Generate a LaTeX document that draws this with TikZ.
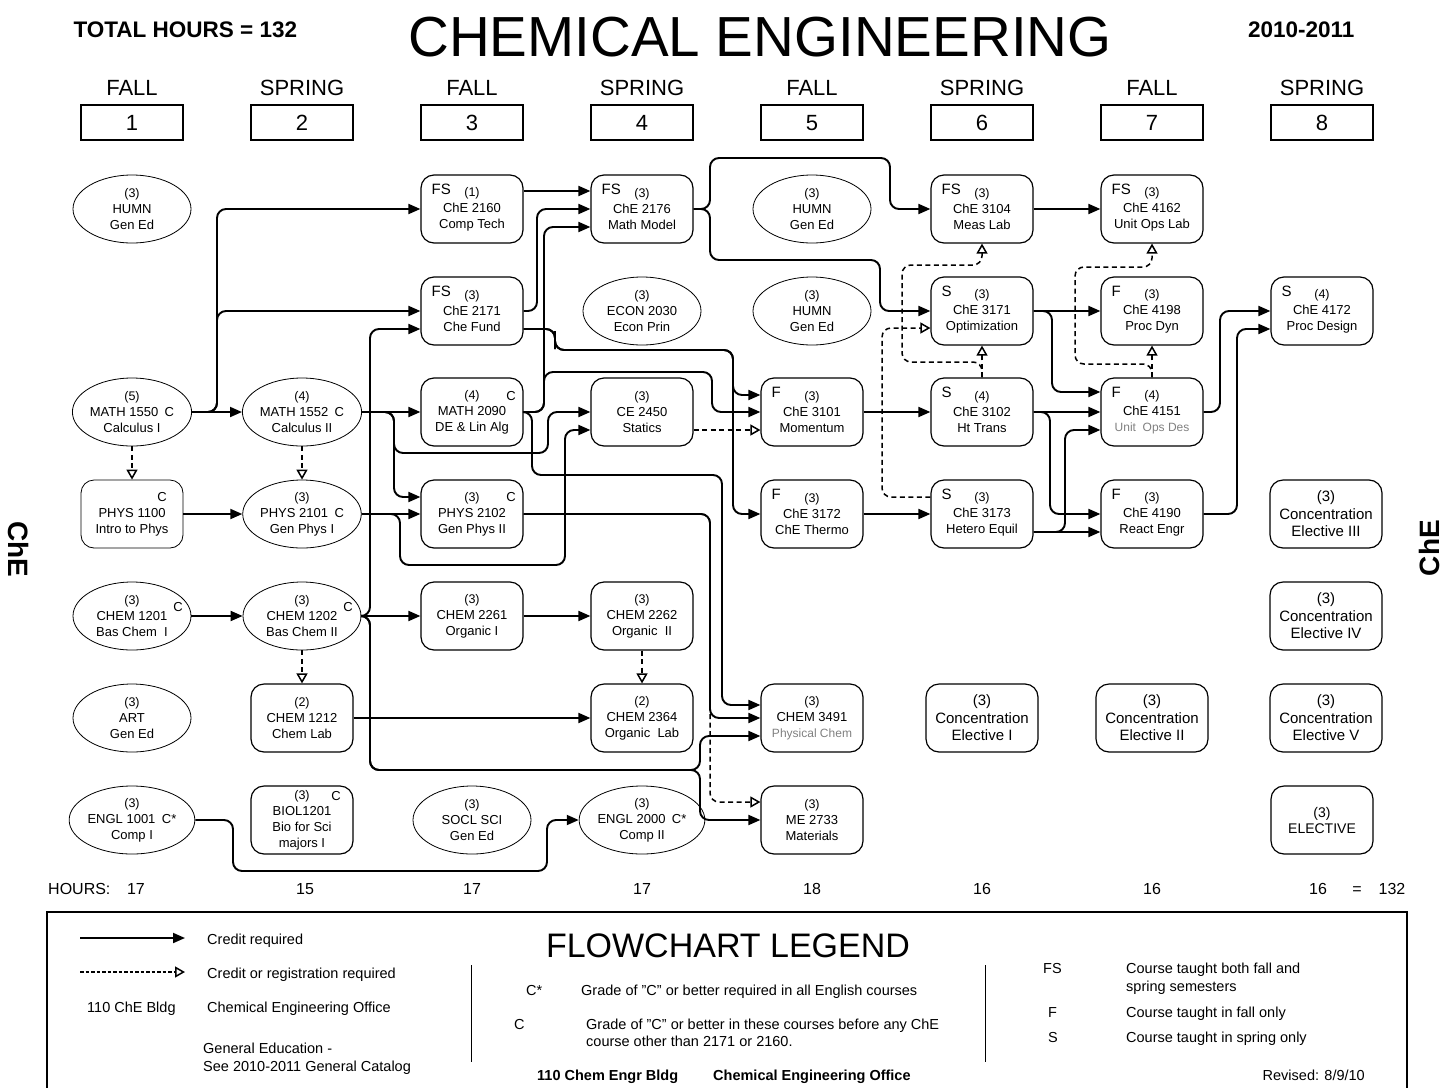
\documentclass[tikz,border=0pt]{standalone}
\usepackage{fontspec}
\setmainfont{Liberation Sans}
\usetikzlibrary{arrows.meta,shapes.geometric}

\newcommand\crsf{\fontsize{13}{16}\selectfont}
\newcommand\concf{\fontsize{15}{17.5}\selectfont}
\newcommand\termf{\fontsize{15}{17}\selectfont}
\newcommand\semf{\fontsize{22}{26}\selectfont}
\newcommand\legf{\fontsize{14.5}{17}\selectfont}
\newcommand\crhrs[1]{{\fontsize{12.5}{16}\selectfont(#1)}}

\tikzset{
  crs/.style={rectangle, draw, rounded corners=13pt, minimum width=102pt, minimum height=68pt, line width=1.2pt, align=center, inner sep=0pt, font=\crsf},
  thinb/.style={line width=.8pt},
  gened/.style={ellipse, draw, minimum width=118pt, minimum height=68pt, line width=.8pt, align=center, inner sep=0pt, font=\crsf},
  conc/.style={crs, minimum width=112pt, font=\concf},
  termlbl/.style={anchor=west, inner sep=0pt, xshift=11pt, yshift=-15pt, font=\termf},
  term/.style={label={[termlbl]north west:#1}},
  cmark/.style 2 args={label={[font=\crsf, inner sep=0pt, xshift=#1, yshift=#2]center:C}},
  req/.style={-{Triangle[length=12pt,width=10pt]}, line width=1.9pt, rounded corners=9pt},
  coreq/.style={-{Triangle[open,length=10pt,width=11pt]}, line width=1.5pt, dash pattern=on 5pt off 3.5pt, rounded corners=9pt},
  semlbl/.style={font=\semf},
  sembox/.style={draw, line width=1.6pt, minimum width=102pt, minimum height=35pt, inner sep=0pt, text height=16pt, text depth=0pt, font=\semf},
  hrsf/.style={font=\fontsize{16}{18}\selectfont, inner sep=0pt, anchor=base},
  legtxt/.style={font=\legf, anchor=base west, inner sep=0pt}
}

\begin{document}
\begin{tikzpicture}[x=1pt,y=-1pt]
\useasboundingbox (0,0) rectangle (1445,1087);

% Title line
\node[anchor=west, font=\bfseries\fontsize{22.5}{25}\selectfont] (tot) at (70,30) {TOTAL HOURS = 132};
\node[font=\fontsize{56.5}{60}\selectfont] (title) at (760,37) {CHEMICAL ENGINEERING};
\node[anchor=east, font=\bfseries\fontsize{22.5}{25}\selectfont] (year) at (1358,30) {2010-2011};

% Semesters
\foreach \i/\sname in {1/FALL,2/SPRING,3/FALL,4/SPRING,5/FALL,6/SPRING,7/FALL,8/SPRING}{
  \node[semlbl] (tl\i) at ({132+170*(\i-1)},88) {\sname};
  \node[sembox] (sb\i) at ({132+170*(\i-1)},122.5) {\i};
}

% Side labels
\node[font=\bfseries\fontsize{28}{30}\selectfont, rotate=-90] (sideL) at (19,549) {ChE};
\node[font=\bfseries\fontsize{28}{30}\selectfont, rotate=90] (sideR) at (1429,548) {ChE};

% Semester 1
\node[gened] (humn1) at (132,209) {\crhrs{3}\\HUMN\\Gen Ed};
\node[gened] (m1550) at (132,412) {\crhrs{5}\\MATH 1550\enspace C\\Calculus I};
\node[crs, thinb, cmark={30pt}{17pt}] (p1100) at (132,514) {\phantom{(3)}\\PHYS 1100\\Intro to Phys};
\node[gened, cmark={46pt}{9pt}] (ch1201) at (132,616) {\crhrs{3}\\CHEM 1201\\Bas Chem\ \ I};
\node[gened] (art1) at (132,718) {\crhrs{3}\\ART\\Gen Ed};
\node[gened] (en1001) at (132,820) {\crhrs{3}\\ENGL 1001\enspace C*\\Comp I};

% Semester 2
\node[gened] (m1552) at (302,412) {\crhrs{4}\\MATH 1552\enspace C\\Calculus II};
\node[gened] (p2101) at (302,514) {\crhrs{3}\\PHYS 2101\enspace C\\Gen Phys I};
\node[gened, cmark={46pt}{9pt}] (ch1202) at (302,616) {\crhrs{3}\\CHEM 1202\\Bas Chem II};
\node[crs] (ch1212) at (302,718) {\crhrs{2}\\CHEM 1212\\Chem Lab};
\node[crs, cmark={34pt}{24pt}] (bi1201) at (302,820) {\crhrs{3}\\BIOL1201\\Bio for Sci\\majors I};

% Semester 3
\node[crs, term=FS] (c2160) at (472,209) {\crhrs{1}\\ChE 2160\\Comp Tech};
\node[crs, term=FS] (c2171) at (472,311) {\crhrs{3}\\ChE 2171\\Che Fund};
\node[crs, cmark={39pt}{16pt}] (m2090) at (472,412) {\crhrs{4}\\MATH 2090\\DE \& Lin Alg};
\node[crs, cmark={39pt}{17pt}] (p2102) at (472,514) {\crhrs{3}\\PHYS 2102\\Gen Phys II};
\node[crs] (ch2261) at (472,616) {\crhrs{3}\\CHEM 2261\\Organic I};
\node[gened] (socl) at (472,820) {\crhrs{3}\\SOCL SCI\\Gen Ed};

% Semester 4
\node[crs, term=FS] (c2176) at (642,209) {\crhrs{3}\\ChE 2176\\Math Model};
\node[gened] (econ) at (642,311) {\crhrs{3}\\ECON 2030\\Econ Prin};
\node[crs] (ce2450) at (642,412) {\crhrs{3}\\CE 2450\\Statics};
\node[crs] (ch2262) at (642,616) {\crhrs{3}\\CHEM 2262\\Organic\ \ II};
\node[crs] (ch2364) at (642,718) {\crhrs{2}\\CHEM 2364\\Organic\ \ Lab};
\node[gened] (en2000) at (642,820) {\crhrs{3}\\ENGL 2000\enspace C*\\Comp II};

% Semester 5
\node[gened] (humn5a) at (812,209) {\crhrs{3}\\HUMN\\Gen Ed};
\node[gened] (humn5b) at (812,311) {\crhrs{3}\\HUMN\\Gen Ed};
\node[crs, term=F] (c3101) at (812,412) {\crhrs{3}\\ChE 3101\\Momentum};
\node[crs, term=F] (c3172) at (812,514) {\crhrs{3}\\ChE 3172\\ChE Thermo};
\node[crs] (ch3491) at (812,718) {\crhrs{3}\\CHEM 3491\\{\fontsize{12}{16}\selectfont\color{gray}Physical Chem}};
\node[crs] (me2733) at (812,820) {\crhrs{3}\\ME 2733\\Materials};

% Semester 6
\node[crs, term=FS] (c3104) at (982,209) {\crhrs{3}\\ChE 3104\\Meas Lab};
\node[crs, term=S] (c3171) at (982,311) {\crhrs{3}\\ChE 3171\\Optimization};
\node[crs, term=S] (c3102) at (982,412) {\crhrs{4}\\ChE 3102\\Ht Trans};
\node[crs, term=S] (c3173) at (982,514) {\crhrs{3}\\ChE 3173\\Hetero Equil};
\node[conc] (conc1) at (982,718) {(3)\\Concentration\\Elective I};

% Semester 7
\node[crs, term=FS] (c4162) at (1152,209) {\crhrs{3}\\ChE 4162\\Unit Ops Lab};
\node[crs, term=F] (c4198) at (1152,311) {\crhrs{3}\\ChE 4198\\Proc Dyn};
\node[crs, term=F] (c4151) at (1152,412) {\crhrs{4}\\ChE 4151\\{\fontsize{12}{16}\selectfont\color{gray}Unit\ \ Ops Des}};
\node[crs, term=F] (c4190) at (1152,514) {\crhrs{3}\\ChE 4190\\React Engr};
\node[conc] (conc2) at (1152,718) {(3)\\Concentration\\Elective II};

% Semester 8
\node[crs, term=S] (c4172) at (1322,311) {\crhrs{4}\\ChE 4172\\Proc Design};
\node[conc] (conc3) at (1326,514) {(3)\\Concentration\\Elective III};
\node[conc] (conc4) at (1326,616) {(3)\\Concentration\\Elective IV};
\node[conc] (conc5) at (1326,718) {(3)\\Concentration\\Elective V};
\node[crs, font=\fontsize{14}{16}\selectfont] (elect) at (1322,820) {(3)\\ELECTIVE};

% Prerequisites from semester 1
\draw[req] (m1550.east) -- (m1552.west);
\draw[req] (m1550.east) -| (217,300) |- (c2160.west);
\draw[req] (m1550.east) -| (217,330) |- (c2171.west);
\draw[coreq] (m1550.south) -- (p1100.north);
\draw[req] (p1100.east) -- (p2101.west);
\draw[req] (ch1201.east) -- (ch1202.west);
\draw[req] (en1001.east) -| (233,871) -| (547,845) |- (en2000.west);

% Prerequisites from semester 2
\draw[coreq] (m1552.south) -- (p2101.north);
\draw[coreq] (ch1202.south) -- (ch1212.north);
\draw[req] (m1552.east) -- (m2090.west);
\draw[req] (m1552.east) -| (394,470) |- ([yshift=17pt]p2102.west);
\draw[req] (m1552.east) -| (394,440) |- (548,453) |- (ce2450.west);
\draw[req] (p2101.east) -- (p2102.west);
\draw[req] (p2101.east) -| (400,540) |- (565,565) |- ([yshift=-18pt]ce2450.west);
\draw[req] (ch1202.east) -- (ch2261.west);
\draw[req] (ch1202.east) -| (370,450) |- ([yshift=-18pt]c2171.west);
\draw[req] (ch1202.east) -| (370,700) |- (700,770) |- ([yshift=-18pt]ch3491.west);
\draw[req] (ch1202.east) -| (370,700) |- (700,770) |- (me2733.west);
\draw[req] (ch1212.east) -- (ch2364.west);

% Prerequisites from semester 3
\draw[req] ([yshift=18pt]c2160.east) -- ([yshift=18pt]c2176.west);
\draw[req] (c2171.east) -| (537,260) |- (c2176.west);
\draw[req] ([yshift=-18pt]c2171.east) -| (555,340) |- (733,350) |- ([yshift=17pt]c3101.west);
\draw[req] ([yshift=-18pt]c2171.east) -| (555,340) |- (733,350) |- (c3172.west);
\draw[req] (m2090.east) -| (544,300) |- ([yshift=-18pt]c2176.west);
\draw[req] (m2090.east) -| (544,390) |- (712,372) |- (c3101.west);
\draw[req] (m2090.east) -| (532,450) |- (722,475) |- ([yshift=13pt]ch3491.west);
\draw[req] (p2102.east) -| (710,600) |- (ch3491.west);
\draw[coreq] (p2102.east) -| (710,700) |- ([yshift=18pt]me2733.west);
\draw[req] (ch2261.east) -- (ch2262.west);

% Prerequisites from semester 4
\draw[req] (c2176.east) -| (710,180) |- (890,158) |- (c3104.west);
\draw[req] (c2176.east) -| (710,240) |- (880,260) |- (c3171.west);
\draw[coreq] ([yshift=-18pt]ce2450.east) -- ([yshift=-18pt]c3101.west);
\draw[coreq] (ch2262.south) -- (ch2364.north);

% Prerequisites from semester 5
\draw[req] (c3101.east) -- (c3102.west);
\draw[req] (c3172.east) -- (c3173.west);

% Prerequisites from semester 6
\draw[coreq] (c3102.north) -- (c3171.south);
\draw[coreq] (c3102.north) |- (902,362) |- (982,265) -- (c3104.south);
\draw[coreq] ([yshift=17pt]c3173.west) -| (882,400) |- ([yshift=-17pt]c3171.west);
\draw[req] (c3104.east) -- (c4162.west);
\draw[req] (c3171.east) -- (c4198.west);
\draw[req] (c3171.east) -| (1052,360) |- ([yshift=20pt]c4151.west);
\draw[req] (c3102.east) -- (c4151.west);
\draw[req] (c3102.east) -| (1050,480) |- (c4190.west);
\draw[req] ([yshift=-18pt]c3173.east) -| (1065,480) |- ([yshift=-18pt]c4151.west);
\draw[req] ([yshift=-18pt]c3173.east) -- ([yshift=-18pt]c4190.west);

% Prerequisites from semester 7
\draw[coreq] (c4151.north) -- (c4198.south);
\draw[coreq] (c4151.north) |- (1075,364) |- (1152,267) -- (c4162.south);
\draw[req] (c4151.east) -| (1220,360) |- (c4172.west);
\draw[req] (c4190.east) -| (1237,420) |- ([yshift=-18pt]c4172.west);

% Hours per semester
\node[hrsf, anchor=base west] (hlab) at (48,894) {HOURS:};
\foreach \hx/\hv [count=\k] in {136/17,305/15,472/17,642/17,812/18,982/16,1152/16,1318/16}{
  \node[hrsf] (h\k) at (\hx,894) {\hv};
}
\node[hrsf] (heq) at (1357,894) {=};
\node[hrsf] (htot) at (1392,894) {132};

% Legend
\draw[line width=1.2pt] (47,912) rectangle (1407,1095);
\node[font=\fontsize{34}{38}\selectfont] (lgtitle) at (728,946) {FLOWCHART LEGEND};
\coordinate (lgA) at (80,938);
\coordinate (lgB) at (185,938);
\coordinate (lgC) at (80,972);
\coordinate (lgD) at (185,972);
\draw[req] (lgA) -- (lgB);
\draw[coreq, dash pattern=on 3.5pt off 2pt] (lgC) -- (lgD);
\node[legtxt] (lg1) at (207,944) {Credit required};
\node[legtxt] (lg2) at (207,978) {Credit or registration required};
\node[legtxt] (lg3) at (87,1012) {110 ChE Bldg};
\node[legtxt] (lg4) at (207,1012) {Chemical Engineering Office};
\node[legtxt] (lg5) at (203,1053) {General Education -};
\node[legtxt] (lg6) at (203,1071) {See 2010-2011 General Catalog};
\draw[line width=.8pt] (471,965) -- (471,1062);
\node[legtxt] (lg7) at (526,995) {C*};
\node[legtxt] (lg8) at (581,995) {Grade of "C" or better required in all English courses};
\node[legtxt] (lg9) at (514,1029) {C};
\node[legtxt] (lg10) at (586,1029) {Grade of "C" or better in these courses before any ChE};
\node[legtxt] (lg11) at (586,1046) {course other than 2171 or 2160.};
\node[legtxt, font=\bfseries\legf] (lg12) at (537,1080) {110 Chem Engr Bldg};
\node[legtxt, font=\bfseries\legf] (lg13) at (713,1080) {Chemical Engineering Office};
\draw[line width=.8pt] (985,965) -- (985,1062);
\node[legtxt] (lg14) at (1043,973) {FS};
\node[legtxt] (lg15) at (1126,973) {Course taught both fall and};
\node[legtxt] (lg16) at (1126,991) {spring semesters};
\node[legtxt] (lg17) at (1048,1017) {F};
\node[legtxt] (lg18) at (1126,1017) {Course taught in fall only};
\node[legtxt] (lg19) at (1048,1042) {S};
\node[legtxt] (lg20) at (1126,1042) {Course taught in spring only};
\node[legtxt, anchor=base east] (lg21) at (1365,1080) {Revised: 8/9/10};

\end{tikzpicture}
\end{document}
